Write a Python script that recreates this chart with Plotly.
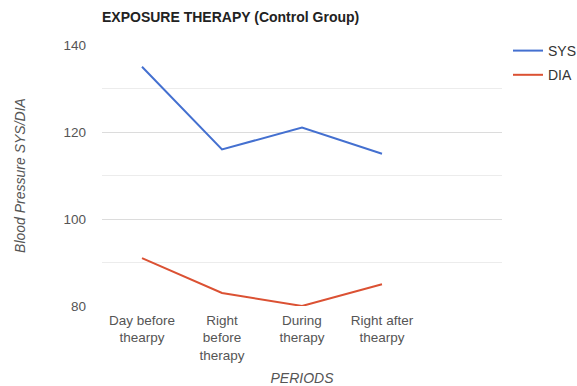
import plotly.graph_objects as go

periods = ["Day before<br>thearpy", "Right<br>before<br>therapy", "During<br>therapy", "Right after<br>thearpy"]
sys_values = [135, 116, 121, 115]
dia_values = [91, 83, 80, 85]

FONT = "Liberation Sans, Arial, sans-serif"

fig = go.Figure()
fig.add_trace(go.Scatter(x=periods, y=sys_values, mode="lines", name="SYS", legendgroup="sys",
                         line=dict(color="#4470d0", width=2)))
fig.add_trace(go.Scatter(x=periods, y=dia_values, mode="lines", name="DIA", legendgroup="dia",
                         line=dict(color="#db5133", width=2)))

W, H = 577, 386
fig.update_layout(
    width=W, height=H,
    margin=dict(l=102, r=75, t=45, b=80, autoexpand=False),
    paper_bgcolor="white", plot_bgcolor="white",
    font=dict(family=FONT, size=13.5, color="#555555"),
    title=dict(text="<b>EXPOSURE THERAPY (Control Group)</b>", x=102/W, xanchor="left",
               y=1 - 17/H, yanchor="middle", font=dict(size=14, color="#222222")),
    legend=dict(x=1.0 + 6/400, xanchor="left", y=1.0 + 10/261, yanchor="top",
                font=dict(size=14, color="#333333"), tracegroupgap=3,
                itemwidth=30),
    showlegend=True,
)
fig.update_xaxes(
    type="category", range=[-0.5, 4.5], showgrid=False, zeroline=False,
    showline=False, ticks="", automargin=False, ticklabelstandoff=4,
    tickfont=dict(size=13.5, color="#555555"),
    title=dict(text="<i>PERIODS</i>", font=dict(size=14, color="#555555"), standoff=14),
)
fig.update_yaxes(
    range=[80, 140], dtick=20, tick0=80, showgrid=True, gridcolor="#dcdcdc",
    zeroline=False, showline=False, ticks="", ticklabelstandoff=15, automargin=False,
    tickfont=dict(size=13.5, color="#555555"),
    minor=dict(dtick=10, tick0=80, showgrid=True, gridcolor="#ececec"),
    title=dict(text="<i>Blood Pressure SYS/DIA</i>", font=dict(size=14, color="#555555"), standoff=34),
)

fig.write_html("out.html", config={"displayModeBar": False},
               post_script="document.body.style.margin='0px';")
